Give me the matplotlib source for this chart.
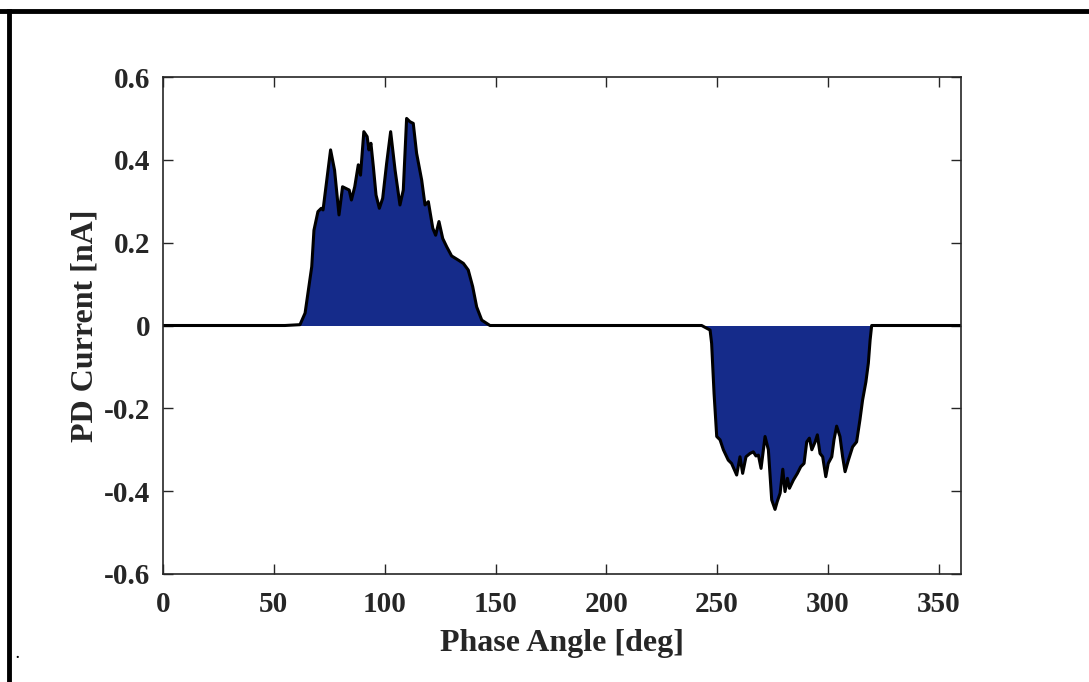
import matplotlib.pyplot as plt
from matplotlib.lines import Line2D

plt.rcParams['font.family'] = ['Liberation Serif', 'DejaVu Serif']
plt.rcParams['font.weight'] = 'bold'

# phase angle [deg] and PD current [nA]
phase = [0, 55, 61.8, 64.1, 67.1, 68.1, 69.9, 71.4, 72.2, 73.7, 75.6, 77.4, 79.4,
         81.0, 82.5, 84.0, 85.0, 86.5, 88.1, 89.1, 90.6, 92.1, 92.9, 93.8, 94.9,
         96.1, 97.6, 99.1, 100.9, 102.7, 104.7, 106.9, 108.4, 109.9, 111.4,
         112.9, 114.4, 116.7, 118.2, 119.7, 121.7, 123.0, 124.5, 126.2, 128.0,
         130.2, 133.2, 135.5, 137.7, 139.7, 141.5, 143.8, 147.5,
         200, 243.0, 246.8, 247.5, 248.6, 249.8, 251.3, 252.8, 255.0, 256.5,
         258.8, 260.3, 261.5, 263.0, 264.8, 266.3, 267.5, 268.6, 269.8, 271.6,
         273.1, 274.6, 276.1, 277.1, 278.4, 279.6, 280.6, 281.7, 282.6, 284.4,
         286.2, 287.7, 289.2, 290.4, 291.6, 292.7, 294.2, 295.2, 296.4, 297.6,
         299.0, 300.1, 301.7, 302.7, 303.9, 305.4, 306.6, 307.7, 309.2, 311.1,
         312.9, 314.4, 315.6, 317.1, 318.2, 319.0, 319.7, 360]
current = [0, 0, 0.002, 0.03, 0.142, 0.23, 0.275, 0.283, 0.279, 0.343, 0.424, 0.375,
           0.267, 0.335, 0.331, 0.327, 0.303, 0.335, 0.388, 0.363, 0.468, 0.456,
           0.424, 0.44, 0.383, 0.315, 0.283, 0.307, 0.392, 0.468, 0.375, 0.291,
           0.327, 0.5, 0.492, 0.488, 0.416, 0.351, 0.291, 0.299, 0.235, 0.218,
           0.251, 0.21, 0.19, 0.168, 0.158, 0.15, 0.134, 0.094, 0.045, 0.013, 0,
           0, 0, -0.011, -0.043, -0.164, -0.268, -0.276, -0.3, -0.325, -0.333,
           -0.361, -0.317, -0.357, -0.317, -0.309, -0.305, -0.315, -0.313, -0.345,
           -0.268, -0.3, -0.421, -0.444, -0.425, -0.405, -0.347, -0.401, -0.369,
           -0.393, -0.373, -0.357, -0.341, -0.333, -0.281, -0.272, -0.3, -0.281,
           -0.264, -0.309, -0.317, -0.365, -0.333, -0.317, -0.276, -0.243, -0.268,
           -0.317, -0.353, -0.325, -0.293, -0.281, -0.228, -0.18, -0.136, -0.091,
           -0.035, 0, 0]

fig = plt.figure(figsize=(10.89, 6.82), dpi=100)
ax = fig.add_axes([163 / 1089, 1 - 574 / 682, (961 - 163) / 1089, (574 - 77) / 682])

ax.fill_between(phase, current, 0, color='#152B8A', linewidth=0)
ax.plot(phase, current, color='black', linewidth=2.2, solid_joinstyle='round')

ax.set_xlim(0, 360)
ax.set_ylim(-0.6, 0.6)
ax.set_xticks(range(0, 351, 50))
ax.set_yticks([-0.6, -0.4, -0.2, 0, 0.2, 0.4, 0.6])
ax.set_yticklabels(['-0.6', '-0.4', '-0.2', '0', '0.2', '0.4', '0.6'])
ax.tick_params(direction='in', top=True, right=True, length=7, width=1,
               labelsize=21, colors='#262626', pad=9)
ax.tick_params(axis='x', pad=12)
for s in ax.spines.values():
    s.set_linewidth(1.2)
    s.set_color('#262626')

ax.set_xlabel('Phase Angle [deg]', fontsize=23, fontweight='bold', color='#262626', labelpad=8)
ax.set_ylabel('PD Current [nA]', fontsize=23, fontweight='bold', color='#262626', labelpad=3)

# frame lines of the original picture
fig.add_artist(Line2D([0, 1], [1 - 11 / 682, 1 - 11 / 682], color='black', linewidth=3.5))
fig.add_artist(Line2D([8.5 / 1089, 8.5 / 1089], [0, 1 - 11 / 682], color='black', linewidth=3.5))
fig.text(17 / 1089, 1 - 655 / 682, '.', fontsize=10, ha='center', va='center')

plt.savefig('out.png', dpi=100)
